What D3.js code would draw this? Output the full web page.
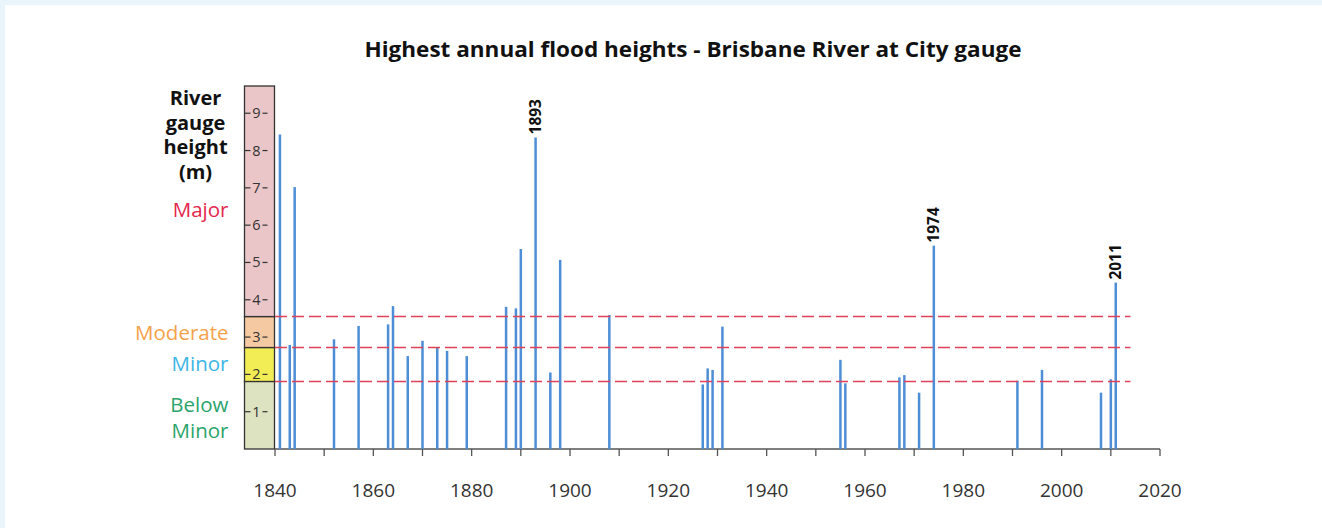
<!DOCTYPE html>
<html>
<head>
<meta charset="utf-8">
<script src="https://cdn.jsdelivr.net/npm/d3@7"></script>
<style>
  html, body { margin: 0; padding: 0; background: #eaf4fb; }
  svg { display: block; }
  text { font-family: "Open Sans", sans-serif; }
</style>
</head>
<body>
<script>
// ---- data ----
const years   = [1841,1843,1844,1852,1857,1863,1864,1867,1870,1873,1875,1879,1887,1889,1890,1893,1896,1898,1908,1927,1928,1929,1931,1955,1956,1967,1968,1971,1974,1991,1996,2008,2010,2011];
const heights = [8.43,2.79,7.02,2.94,3.30,3.34,3.83,2.49,2.90,2.72,2.63,2.49,3.81,3.77,5.36,8.35,2.05,5.07,3.59,1.73,2.16,2.12,3.28,2.39,1.76,1.92,1.98,1.51,5.45,1.83,2.12,1.51,1.87,4.46];
const labelledYears = [1893, 1974, 2011];
const xTickLabels = [1840,1860,1880,1900,1920,1940,1960,1980,2000,2020];
const xMinorTicks = [1840,1850,1860,1870,1880,1890,1900,1910,1920,1930,1940,1950,1960,1970,1980,1990,2000,2010,2020];
const yTicks = [1,2,3,4,5,6,7,8,9];
const bandNames  = ["Below Minor","Minor","Moderate","Major"];
const bandBounds = [0, 1.81, 2.72, 3.55, 9.73];
const thresholds = [1.81, 2.72, 3.55];
const title = "Highest annual flood heights - Brisbane River at City gauge";
const yTitleLines = ["River","gauge","height","(m)"];

const W = 1322, H = 528;
const svg = d3.select("body").append("svg").attr("width", W).attr("height", H);
svg.append("rect").attr("x", 5).attr("y", 5).attr("width", W - 5).attr("height", H - 5).attr("fill", "#fff");

const x = d3.scaleLinear().domain([1840, 2020]).range([275, 1160]);
const y = d3.scaleLinear().domain([0, 9.73]).range([449, 86]);

// title
svg.append("text").attr("x", 693).attr("y", 57).attr("text-anchor", "middle")
  .attr("font-size", 21).attr("font-weight", 700).attr("fill", "#111")
  .attr("textLength", 657).attr("lengthAdjust", "spacingAndGlyphs").text(title);

// band box
const bandColors = ["#dde3c1", "#f2ec55", "#f5c9a1", "#eac6c8"];
const boxL = 244.5, boxR = x(1840) - 0.5;
const bands = svg.append("g");
bandNames.forEach((n, i) => {
  bands.append("rect").attr("x", boxL).attr("width", boxR - boxL)
    .attr("y", y(bandBounds[i + 1])).attr("height", y(bandBounds[i]) - y(bandBounds[i + 1]))
    .attr("fill", bandColors[i]).attr("stroke", "#333").attr("stroke-width", 1.3);
});

// y ticks inside box
yTicks.forEach(t => {
  const g = bands.append("g").attr("transform", `translate(0,${y(t)})`);
  g.append("line").attr("x1", boxL).attr("x2", boxL + 6).attr("stroke", "#333").attr("stroke-width", 1.2);
  g.append("line").attr("x1", boxL + 18).attr("x2", boxL + 23).attr("stroke", "#333").attr("stroke-width", 1.2);
  g.append("text").attr("x", boxL + 12).attr("y", 5).attr("text-anchor", "middle")
    .attr("font-size", 14.5).attr("fill", "#333").text(t);
});

// y title
const yt = svg.append("text").attr("text-anchor", "middle").attr("font-size", 20)
  .attr("font-weight", 700).attr("fill", "#111");
yTitleLines.forEach((l, i) => yt.append("tspan").attr("x", 195.5).attr("y", 105 + i * 24.5).text(l));

// band labels
const lblColors = ["#2ba46b", "#3cb5e6", "#f4a24a", "#e4264c"];
const lbl = svg.append("g").attr("text-anchor", "end").attr("font-size", 20.5);
lbl.append("text").attr("x", 228.5).attr("y", 216.5).attr("fill", lblColors[3]).text(bandNames[3]);
lbl.append("text").attr("x", 228.5).attr("y", 340).attr("fill", lblColors[2]).text(bandNames[2]);
lbl.append("text").attr("x", 228.5).attr("y", 371).attr("fill", lblColors[1]).text(bandNames[1]);
const bm = bandNames[0].split(" ");
lbl.append("text").attr("x", 228.5).attr("y", 411.5).attr("fill", lblColors[0]).text(bm[0]);
lbl.append("text").attr("x", 228.5).attr("y", 438).attr("fill", lblColors[0]).text(bm[1]);

// x axis
const ax = svg.append("g");
ax.append("line").attr("x1", x(1840)).attr("x2", x(2020)).attr("y1", y(0)).attr("y2", y(0))
  .attr("stroke", "#555").attr("stroke-width", 1.5);
ax.selectAll("line.tk").data(xMinorTicks).join("line").attr("class", "tk")
  .attr("x1", d => x(d)).attr("x2", d => x(d)).attr("y1", y(0)).attr("y2", y(0) + 7)
  .attr("stroke", "#555").attr("stroke-width", 1.3);
ax.selectAll("text").data(xTickLabels).join("text")
  .attr("x", d => x(d)).attr("y", 497).attr("text-anchor", "middle")
  .attr("font-size", 19).attr("fill", "#333").text(d => d);

// bars
const data = years.map((yr, i) => ({ yr, h: heights[i] }));
svg.append("g").selectAll("rect").data(data).join("rect")
  .attr("x", d => x(d.yr) - 1.25).attr("width", 2.5)
  .attr("y", d => y(d.h)).attr("height", d => y(0) - y(d.h))
  .attr("fill", "#4e8ed6");

// threshold dashed lines
svg.append("g").selectAll("line").data(thresholds).join("line")
  .attr("x1", x(1840)).attr("x2", x(2014)).attr("y1", d => y(d)).attr("y2", d => y(d))
  .attr("stroke", "#e0405a").attr("stroke-width", 1.6).attr("stroke-dasharray", "12,5");

// year labels
svg.append("g").selectAll("text").data(data.filter(d => labelledYears.includes(d.yr))).join("text")
  .attr("transform", d => `translate(${x(d.yr) + 5.5},${y(d.h) - 3}) rotate(-90)`)
  .attr("font-size", 15.5).attr("font-weight", 700).attr("fill", "#111")
  .text(d => d.yr);
</script>
</body>
</html>
